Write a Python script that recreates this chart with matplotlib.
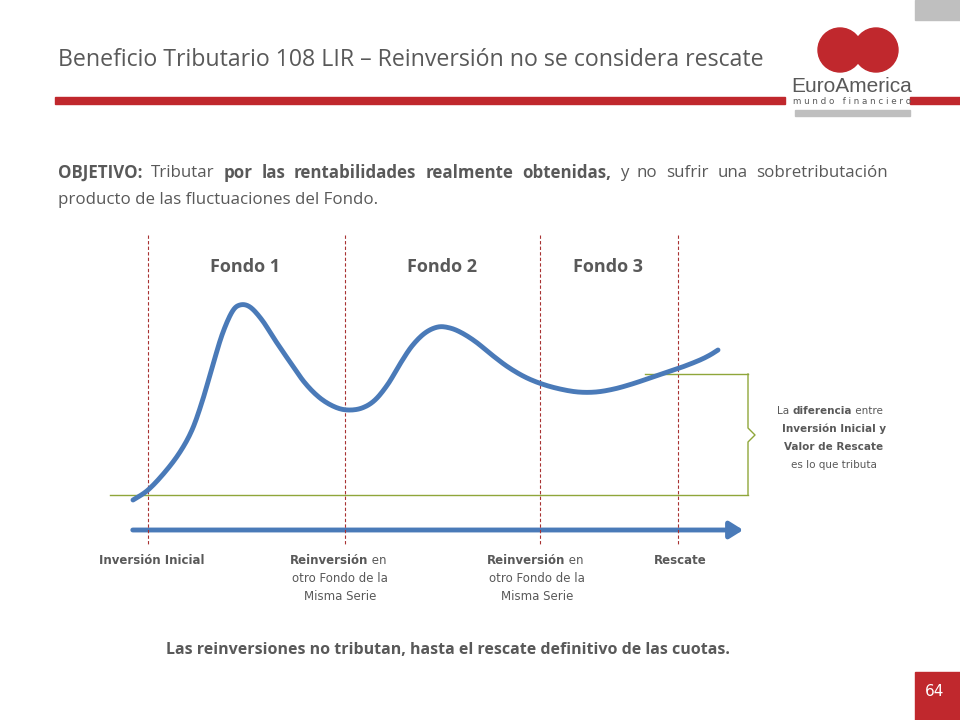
import matplotlib
matplotlib.use("Agg")
import matplotlib.pyplot as plt
import numpy as np
from matplotlib.patches import Rectangle, Circle, FancyArrowPatch

curve_x = [133,148,165,180,192,202,212,222,232,240,250,262,275,290,305,320,335,348,362,375,388,400,412,425,438,450,462,476,492,508,525,542,560,578,596,614,632,650,668,685,700,710,718]
curve_y = [500,490,472,452,430,402,368,335,312,305,307,320,340,362,383,398,407,410,408,400,384,364,346,333,327,328,333,342,355,367,377,384,389,392,392,389,384,378,372,366,360,355,350]
fondos = ["Fondo 1", "Fondo 2", "Fondo 3"]
fondo_x = [245, 442, 608]
vlines_x = [148, 345, 540, 678]

fig = plt.figure(figsize=(9.6, 7.2), dpi=100)
ax = fig.add_axes([0, 0, 1, 1])
ax.set_xlim(0, 960); ax.set_ylim(720, 0); ax.axis("off")
red = "#c0282d"; gray = "#595959"; blue = "#4a7ab8"
renderer = fig.canvas.get_renderer()

def chain(x, y, parts, gap=0.0, **kw):
    for s, bold in parts:
        t = ax.text(x, y, s, weight="bold" if bold else "normal", va="center", **kw)
        bb = t.get_window_extent(renderer)
        x += bb.width + gap

def justify(x0, x1, y, words, **kw):
    ts = []
    tot = 0
    for s, bold in words:
        t = ax.text(0, y, s, weight="bold" if bold else "normal", va="center", **kw)
        w = t.get_window_extent(renderer).width
        ts.append((t, w)); tot += w
    gap = (x1 - x0 - tot) / (len(ts) - 1)
    x = x0
    for t, w in ts:
        t.set_x(x); x += w + gap

ax.text(58, 60, "Beneficio Tributario 108 LIR – Reinversión no se considera rescate",
        fontsize=16.7, color=gray, va="center", family="Open Sans")
ax.add_patch(Rectangle((55, 97), 730, 7, color=red))
ax.add_patch(Rectangle((910, 97), 50, 7, color=red))
ax.add_patch(Rectangle((915, 0), 45, 20, color="#bfbfbf"))
ax.add_patch(Rectangle((795, 110), 115, 6, color="#bfbfbf"))
ax.add_patch(Circle((840, 50), 22, color=red))
ax.add_patch(Circle((876, 50), 22, color=red))
ax.text(852, 86, "EuroAmerica", fontsize=15, color=gray, ha="center", va="center", family="Liberation Sans")
ax.text(852, 102, "m u n d o   f i n a n c i e r o", fontsize=6.3, color=gray, ha="center", va="center")
ax.add_patch(Rectangle((915, 672), 45, 48, color=red))
ax.text(925, 692, "64", fontsize=11, color="white", va="center")

fs = 12.2
line1 = [("OBJETIVO:", True), ("Tributar", False)] + [(w, True) for w in "por las rentabilidades realmente obtenidas,".split()] \
        + [(w, False) for w in "y no sufrir una sobretributación".split()]
justify(58, 888, 173, line1, fontsize=fs, color=gray, family="Open Sans")
ax.text(58, 200, "producto de las fluctuaciones del Fondo.", fontsize=fs, color=gray, va="center", family="Open Sans")

for x in vlines_x:
    ax.plot([x, x], [235, 545], color="#a83232", lw=0.8, ls=(0, (3, 2)))
for f, x in zip(fondos, fondo_x):
    ax.text(x, 267, f, fontsize=13, color=gray, weight="bold", ha="center", va="center", family="Open Sans")

ax.plot([110, 748], [495, 495], color="#8fa63a", lw=1)
ax.plot([645, 748], [374, 374], color="#8fa63a", lw=1)
ax.plot([748, 748, 755, 748, 748], [374, 428, 435, 442, 495], color="#8fa63a", lw=1)

P = np.column_stack([curve_x, curve_y]).astype(float)
P = np.vstack([P[0], P, P[-1]])
pts = []
for i in range(1, len(P) - 2):
    p0, p1, p2, p3 = P[i-1], P[i], P[i+1], P[i+2]
    for t in np.linspace(0, 1, 12, endpoint=False):
        pts.append(0.5 * (2*p1 + (-p0+p2)*t + (2*p0-5*p1+4*p2-p3)*t*t + (-p0+3*p1-3*p2+p3)*t**3))
pts.append(P[-2])
pts = np.array(pts)
ax.plot(pts[:, 0], pts[:, 1], color=blue, lw=3.5, solid_capstyle="round")
ax.add_patch(FancyArrowPatch((130, 530), (746, 530), arrowstyle="-|>,head_length=8,head_width=5",
                             color=blue, lw=3.5, mutation_scale=1))

chain(777, 411, [("La ", False), ("diferencia", True), (" entre", False)], fontsize=7.5, color=gray)
ax.text(834, 429, "Inversión Inicial y", fontsize=7.5, color=gray, weight="bold", ha="center", va="center")
ax.text(834, 447, "Valor de Rescate", fontsize=7.5, color=gray, weight="bold", ha="center", va="center")
ax.text(834, 465, "es lo que tributa", fontsize=7.5, color=gray, ha="center", va="center")

ax.text(152, 560, "Inversión Inicial", fontsize=8.5, color=gray, weight="bold", ha="center", va="center")
for cx in [340, 537]:
    chain(cx - 50, 560, [("Reinversión", True), (" en", False)], fontsize=8.5, color=gray)
    ax.text(cx, 578, "otro Fondo de la", fontsize=8.5, color=gray, ha="center", va="center")
    ax.text(cx, 597, "Misma Serie", fontsize=8.5, color=gray, ha="center", va="center")
ax.text(680, 560, "Rescate", fontsize=8.5, color=gray, weight="bold", ha="center", va="center")

ax.text(448, 650, "Las reinversiones no tributan, hasta el rescate definitivo de las cuotas.",
        fontsize=11.5, color=gray, weight="bold", ha="center", va="center", family="Open Sans")
fig.savefig("out.png", dpi=100)
